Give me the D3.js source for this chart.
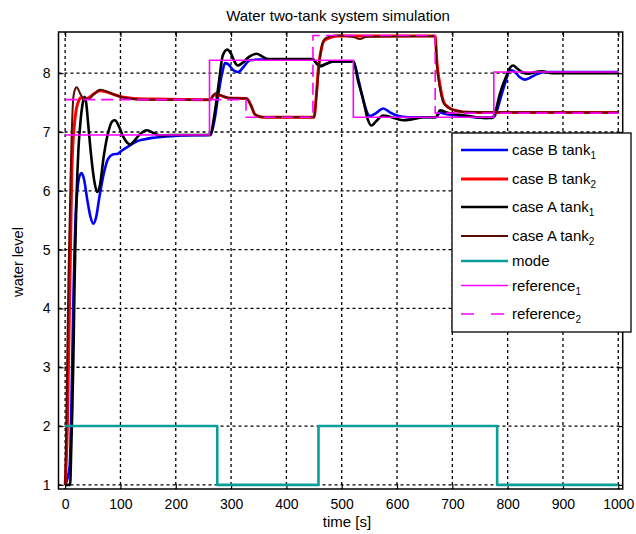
<!DOCTYPE html>
<html><head><meta charset="utf-8">
<script src="https://cdn.jsdelivr.net/npm/d3@7"></script>
<style>
html,body{margin:0;padding:0;background:#fff;}
svg{display:block;font-family:"Liberation Sans",Arial,sans-serif;}
</style></head>
<body><svg id="c" width="636" height="534"></svg>
<script>
// ---- data ----
const title = "Water two-tank system simulation";
const xLabel = "time [s]";
const yLabel = "water level";
const xTicks = [0,100,200,300,400,500,600,700,800,900,1000];
const yTicks = [1,2,3,4,5,6,7,8];

const caseB_tank1_t = [0,8,11,13,15,17,19,22,26,30,34,40,46,51,56,62,70,78,87,95,102,115,127,140,157,180,210,262,270,278,285,289,295,303,313,322,334,350,448,455,460,470,485,521,530,540,551,562,575,588,600,620,670,678,690,710,760,775,780,788,796,804,812,822,831,842,852,870,1000];
const caseB_tank1   = [1,1.3,2.2,3.2,4.2,5.0,5.6,6.0,6.25,6.3,6.2,5.85,5.55,5.44,5.55,5.9,6.3,6.55,6.62,6.63,6.68,6.76,6.83,6.87,6.9,6.92,6.94,6.95,7.2,7.7,8.05,8.17,8.15,8.06,8.02,8.1,8.22,8.23,8.23,8.16,8.12,8.15,8.2,8.2,7.9,7.5,7.27,7.32,7.4,7.33,7.28,7.25,7.25,7.33,7.3,7.28,7.24,7.25,7.35,7.6,7.85,8.05,8.03,7.93,7.89,7.93,7.98,8.02,8.02];

const caseB_tank2_t = [0,4,7,10,12,14,17,20,24,28,35,42,52,63,75,90,105,125,160,262,270,280,295,328,336,343,352,365,450,454,458,463,468,478,491,669,672,678,684,690,696,708,720,760,1000];
const caseB_tank2   = [1,2,3.6,5.2,6.3,6.8,7.15,7.38,7.52,7.58,7.57,7.58,7.65,7.7,7.68,7.63,7.59,7.57,7.56,7.55,7.63,7.62,7.58,7.57,7.45,7.3,7.26,7.25,7.25,7.6,8.1,8.4,8.55,8.6,8.63,8.63,8.2,7.78,7.52,7.44,7.4,7.36,7.34,7.33,7.33];

const caseA_tank1_t = [0,9,11,13,15,17,19,21,24,28,32,35,38,42,47,53,58,63,70,78,85,90,97,105,112,118,125,135,148,160,172,190,262,270,278,285,293,300,306,312,320,333,346,357,367,380,448,455,462,472,485,521,530,539,547,554,562,575,590,611,630,648,670,678,690,702,730,756,772,777,786,798,805,810,817,826,838,850,862,880,1000];
const caseA_tank1   = [1,1,1.6,2.3,3.2,4.4,5.3,6.0,6.7,7.2,7.5,7.6,7.5,7.1,6.6,6.15,5.98,6.1,6.6,7.0,7.18,7.2,7.1,6.92,6.82,6.79,6.85,6.96,7.03,6.98,6.94,6.95,6.95,7.3,7.85,8.3,8.4,8.33,8.2,8.13,8.17,8.28,8.33,8.28,8.24,8.24,8.24,8.16,8.12,8.16,8.2,8.2,7.85,7.55,7.22,7.11,7.18,7.28,7.25,7.2,7.22,7.25,7.25,7.37,7.33,7.31,7.27,7.24,7.24,7.32,7.65,7.96,8.1,8.13,8.08,8.02,7.99,8.02,8.03,8.0,8.0];

const caseA_tank2_t = [0,2,4,6,8,10,12,15,18,21,24,29,35,42,52,63,75,88,100,115,140,262,267,272,280,295,328,336,343,352,365,450,455,460,465,472,491,520,533,545,669,672,678,684,692,708,720,1000];
const caseA_tank2   = [1,2,3.3,4.5,5.4,6.3,7.0,7.6,7.73,7.76,7.72,7.62,7.56,7.56,7.64,7.72,7.69,7.64,7.6,7.57,7.55,7.55,7.62,7.66,7.63,7.58,7.57,7.45,7.3,7.26,7.25,7.25,7.7,8.2,8.5,8.6,8.64,8.62,8.58,8.62,8.63,8.15,7.72,7.5,7.42,7.36,7.34,7.33];

const mode_t = [0,275,458,781,1000];
const mode   = [2,1,2,1,1];

const reference1_t = [0,261,521,775,1000];
const reference1   = [6.95,8.22,7.25,8.02,8.02];

const reference2_t = [0,327,448,669,1000];
const reference2   = [7.55,7.25,8.64,7.32,7.32];

// ---- chart ----
const svg = d3.select("#c");
const L = 58.5, R = 622.7, T = 32, B = 489;
const x = d3.scaleLinear().domain([-12,1008]).range([L,R]);
const y = d3.scaleLinear().domain([0.93,8.7]).range([B,T]);

svg.append("rect").attr("width",636).attr("height",534).attr("fill","#fff");

svg.append("defs").append("clipPath").attr("id","clip")
  .append("rect").attr("x",L).attr("y",T).attr("width",R-L).attr("height",B-T);

// grid
const grid = svg.append("g").attr("stroke","#000").attr("stroke-width",1.3).attr("stroke-dasharray","3,3");
xTicks.forEach(t=>grid.append("line").attr("x1",x(t)).attr("x2",x(t)).attr("y1",T).attr("y2",B));
yTicks.forEach(t=>grid.append("line").attr("y1",y(t)).attr("y2",y(t)).attr("x1",L).attr("x2",R));

// axes via d3.axis (ticks inward)
const fs = "14px";
const xAx = svg.append("g").attr("transform",`translate(0,${B})`)
  .call(d3.axisBottom(x).tickValues(xTicks).tickSize(-5).tickPadding(10).tickFormat(d3.format("d")));
const xAxTop = svg.append("g").attr("transform",`translate(0,${T})`)
  .call(d3.axisTop(x).tickValues(xTicks).tickSize(-5).tickFormat(""));
const yAx = svg.append("g").attr("transform",`translate(${L},0)`)
  .call(d3.axisLeft(y).tickValues(yTicks).tickSize(-5).tickPadding(8).tickFormat(d3.format("d")));
const yAxR = svg.append("g").attr("transform",`translate(${R},0)`)
  .call(d3.axisRight(y).tickValues(yTicks).tickSize(-5).tickFormat(""));
[xAx,xAxTop,yAx,yAxR].forEach(g=>{
  g.select(".domain").remove();
  g.selectAll("line").attr("stroke","#000").attr("stroke-width",1.2);
  g.selectAll("text").attr("font-size",fs).attr("fill","#000").attr("font-family","Liberation Sans, Arial, sans-serif");
});
svg.append("rect").attr("x",L).attr("y",T).attr("width",R-L).attr("height",B-T)
  .attr("fill","none").attr("stroke","#000").attr("stroke-width",1.5);

// series
const zip = (ts,vs)=>ts.map((t,i)=>[t,vs[i]]);
const smooth = d3.line().x(d=>x(d[0])).y(d=>y(d[1])).curve(d3.curveMonotoneX);
const step = d3.line().x(d=>x(d[0])).y(d=>y(d[1])).curve(d3.curveStepAfter);

const series = [
  {name:"case B tank", sub:"1", data:zip(caseB_tank1_t,caseB_tank1), color:"#0000ff", w:2.6, gen:smooth},
  {name:"case B tank", sub:"2", data:zip(caseB_tank2_t,caseB_tank2), color:"#ff0000", w:3, gen:smooth},
  {name:"case A tank", sub:"1", data:zip(caseA_tank1_t,caseA_tank1), color:"#000000", w:2.6, gen:smooth},
  {name:"case A tank", sub:"2", data:zip(caseA_tank2_t,caseA_tank2), color:"#5a0c00", w:2, gen:smooth},
  {name:"mode", sub:"", data:zip(mode_t,mode), color:"#0a9e9a", w:2.6, gen:step},
  {name:"reference", sub:"1", data:zip(reference1_t,reference1), color:"#ff00ff", w:1.6, gen:step},
  {name:"reference", sub:"2", data:zip(reference2_t,reference2), color:"#ff00ff", w:1.6, gen:step, dash:"12,6"}
];
const plot = svg.append("g").attr("clip-path","url(#clip)");
series.forEach(s=>{
  plot.append("path").attr("d",s.gen(s.data)).attr("fill","none")
    .attr("stroke",s.color).attr("stroke-width",s.w).attr("stroke-linejoin","round")
    .attr("stroke-dasharray",s.dash||null);
});

// titles
svg.append("text").attr("x",338).attr("y",21).attr("text-anchor","middle")
  .attr("font-size","15px").text(title);
svg.append("text").attr("x",347).attr("y",527).attr("text-anchor","middle")
  .attr("font-size","15px").text(xLabel);
svg.append("text").attr("transform","translate(23,262) rotate(-90)").attr("text-anchor","middle")
  .attr("font-size","14.6px").text(yLabel);

// legend
const lg = svg.append("g");
lg.append("rect").attr("x",452).attr("y",133).attr("width",179).attr("height",199)
  .attr("fill","#fff").attr("stroke","#000").attr("stroke-width",1.3);
const ly = [150,179,207,236,261,285.5,314];
series.forEach((s,i)=>{
  lg.append("line").attr("x1",461).attr("x2",508).attr("y1",ly[i]).attr("y2",ly[i])
    .attr("stroke",s.color).attr("stroke-width",s.w).attr("stroke-dasharray",s.dash?"13,17":null);
  const t = lg.append("text").attr("x",512).attr("y",ly[i]+5).attr("font-size","15px");
  t.append("tspan").text(s.name);
  if(s.sub) t.append("tspan").attr("dy",4).attr("font-size","10px").text(s.sub);
});
</script>
</body></html>
